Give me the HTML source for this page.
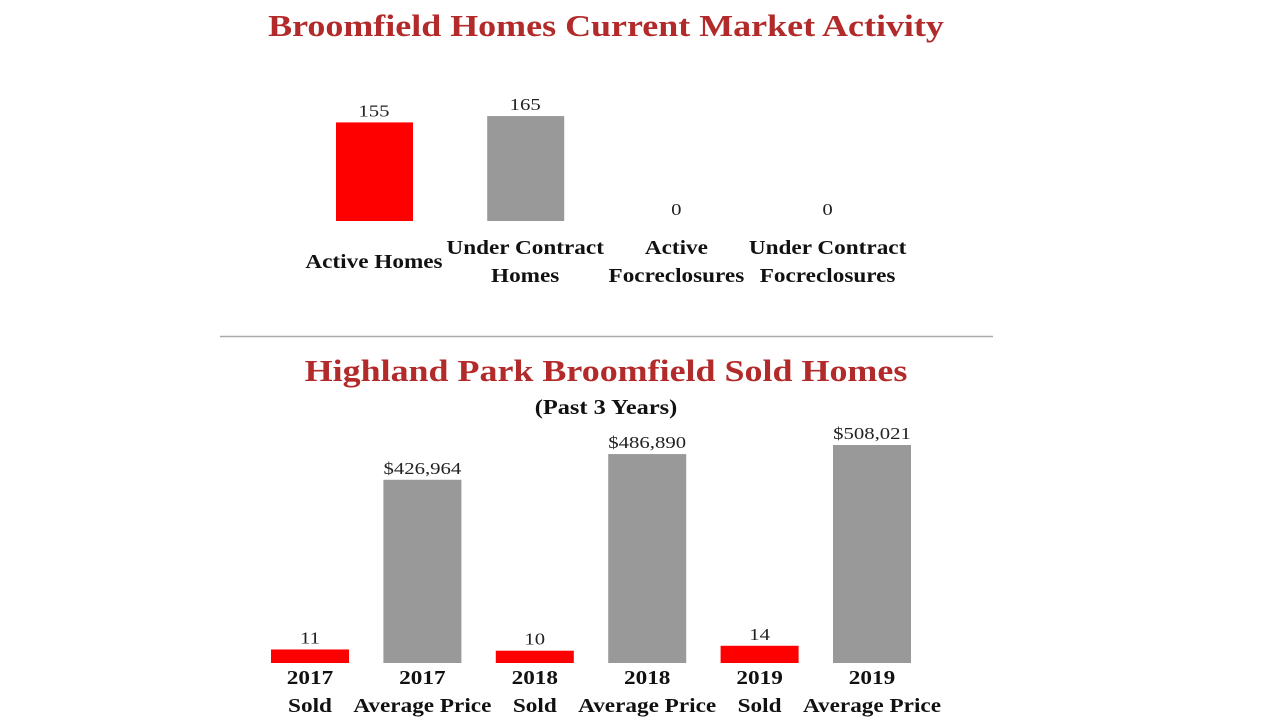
<!DOCTYPE html>
<html><head><meta charset="utf-8"><style>
html,body{margin:0;padding:0;background:#fff;}
body{width:1280px;height:720px;overflow:hidden;position:relative;font-family:"Liberation Serif",serif;}
svg text{font-family:"Liberation Serif",serif;}
</style></head><body>
<svg id="c" width="1280" height="720">
<text class="w" x="606" y="36" text-anchor="middle" font-size="31" font-weight="bold" fill="#b22a2a">Broomfield Homes Current Market Activity</text>
<line x1="220" y1="336.5" x2="993" y2="336.5" stroke="#aaa" stroke-width="1.5"/>
<text class="w" x="606" y="381" text-anchor="middle" font-size="31" font-weight="bold" fill="#b22a2a">Highland Park Broomfield Sold Homes</text>
<text class="w" x="606" y="414" text-anchor="middle" font-size="21" font-weight="bold" fill="#111">(Past 3 Years)</text>
<g id="top"></g><g id="bot"></g>
</svg>
<script>
const topCats=[["","Active Homes"],["Under Contract","Homes"],["Active","Focreclosures"],["Under Contract","Focreclosures"]];
const topVals=[155,165,0,0];
const topColors=["#ff0000","#999999","#999999","#999999"];
const botCats=[["2017","Sold"],["2017","Average Price"],["2018","Sold"],["2018","Average Price"],["2019","Sold"],["2019","Average Price"]];
const botVals=[11,426964,10,486890,14,508021];
const botLabels=["11","$426,964","10","$486,890","14","$508,021"];
const NS="http://www.w3.org/2000/svg";
function mk(tag,attrs,parent,txt){const e=document.createElementNS(NS,tag);for(const k in attrs)e.setAttribute(k,attrs[k]);if(txt!==undefined)e.textContent=txt;parent.appendChild(e);return e;}
const gt=document.getElementById('top');
const topX=i=>374+i*151.2, topY=v=>221-v*0.636;
topVals.forEach((v,i)=>{
  const cx=topX(i);
  if(v>0){const r=mk('rect',{x:cx-38,y:topY(v),width:77,height:221-topY(v),fill:topColors[i]},gt);
  
  }
  const t=mk('text',{class:'v',x:cx,y:topY(v)-6,'text-anchor':'middle','font-size':17,fill:'#222'},gt,String(v));
  
  
  const c=topCats[i];
  if(c[0]===""){const l=mk('text',{class:'w',x:cx,y:268,'text-anchor':'middle','font-size':20,'font-weight':'bold',fill:'#111'},gt,c[1]);
    
    }
  else{const l1=mk('text',{class:'w',x:cx,y:254,'text-anchor':'middle','font-size':20,'font-weight':'bold',fill:'#111'},gt,c[0]);
    
    
    const l2=mk('text',{class:'w',x:cx,y:282,'text-anchor':'middle','font-size':20,'font-weight':'bold',fill:'#111'},gt,c[1]);
    
    }
});
const gb=document.getElementById('bot');
const base=663;
const botX=i=>310+i*112.4;
const priceH=v=>v*218/508021, soldH=v=>v*1.23;
botVals.forEach((v,i)=>{
  const cx=botX(i), sold=i%2===0;
  const h=sold?soldH(v):priceH(v);
  const r=mk('rect',{x:cx-39,y:base-h,width:78,height:h,fill:sold?'#ff0000':'#999999'},gb);
  
  
  const t=mk('text',{class:'v',x:cx,y:base-h-6,'text-anchor':'middle','font-size':17,fill:'#222'},gb,botLabels[i]);
  
  
  const l1=mk('text',{class:'w',x:cx,y:684,'text-anchor':'middle','font-size':20,'font-weight':'bold',fill:'#111'},gb,botCats[i][0]);
  
  
  const l2=mk('text',{class:'w',x:cx,y:712,'text-anchor':'middle','font-size':20,'font-weight':'bold',fill:'#111'},gb,botCats[i][1]);
  
  
});
document.querySelectorAll('text').forEach(t=>{
  const f=t.getAttribute('class')==='v'?1.22:1.16;
  const w=t.getComputedTextLength();
  if(w>0){t.setAttribute('textLength',(w*f).toFixed(1));t.setAttribute('lengthAdjust','spacingAndGlyphs');}
});
</script>
</body></html>
